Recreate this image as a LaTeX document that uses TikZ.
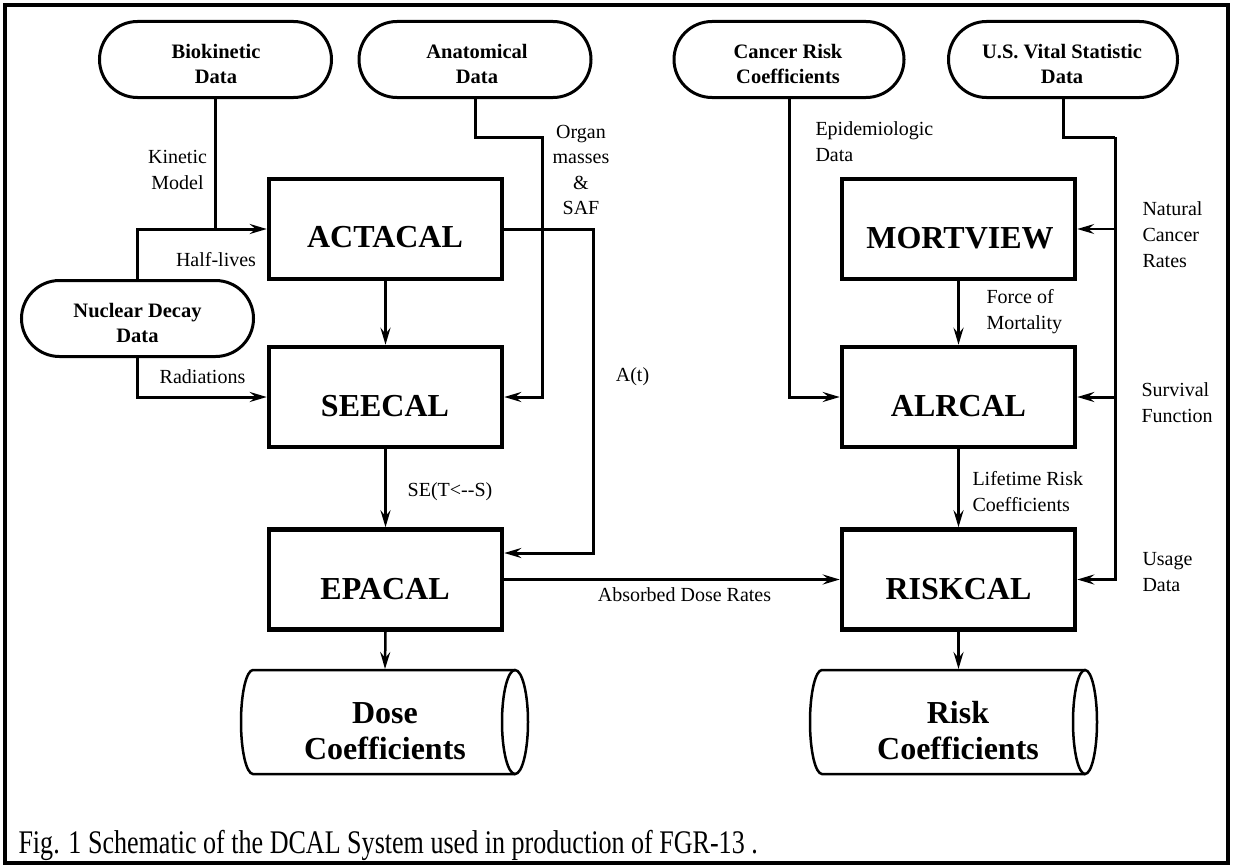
\documentclass[tikz,border=0pt]{standalone}
\usepackage{fontspec}
\usepackage{graphicx}
\setmainfont{Liberation Serif}
\usetikzlibrary{arrows.meta,shapes.misc}
\begin{document}
\begin{tikzpicture}[x=1pt,y=-1pt,
  line width=3pt,
  arr/.style={-{Stealth[length=17pt,width=10pt,inset=6pt]}},
  datanode/.style={rounded rectangle, draw, line width=3pt, minimum width=232pt, minimum height=76pt, inner sep=0pt},
  prog/.style={draw, line width=4.5pt, minimum width=233pt, minimum height=100pt, inner sep=0pt},
  ttl/.style={inner sep=0pt, align=center, font=\fontsize{20.5}{25}\selectfont\bfseries},
  progtxt/.style={inner sep=0pt, align=center, font=\fontsize{32}{36}\selectfont\bfseries},
  lbl/.style={inner sep=0pt, font=\fontsize{20}{26}\selectfont},
  cyl/.style={draw, line width=2.5pt},
]
\useasboundingbox (0,0) rectangle (1233,867);
\draw[line width=4.5pt] (5,5) rectangle (1228,863);

% data sources
\node[datanode] (bio) at (215.5,59.5) {};
\node[ttl] (bio-t) at (216,64) {Biokinetic\\Data};
\node[datanode] (anat) at (475,59.5) {};
\node[ttl] (anat-t) at (477,64) {Anatomical\\Data};
\node[datanode, minimum width=230pt] (canc) at (789,59.5) {};
\node[ttl] (canc-t) at (788,64) {Cancer Risk\\Coefficients};
\node[datanode, minimum width=229pt] (usv) at (1063,59.5) {};
\node[ttl] (usv-t) at (1062,64) {U.S. Vital Statistic\\Data};
\node[datanode] (nuc) at (137.5,318.5) {};
\node[ttl] (nuc-t) at (137.5,323) {Nuclear Decay\\Data};

% programs
\node[prog] (act) at (385.5,229) {};
\node[progtxt] (act-t) at (385,237.5) {ACTACAL};
\node[prog] (see) at (385.5,397) {};
\node[progtxt] (see-t) at (385,406) {SEECAL};
\node[prog] (epa) at (385.5,579.5) {};
\node[progtxt] (epa-t) at (385,589) {EPACAL};
\node[prog] (mort) at (958.5,229) {};
\node[progtxt] (mort-t) at (960,238.5) {MORTVIEW};
\node[prog] (alr) at (958.5,397) {};
\node[progtxt] (alr-t) at (958.5,406) {ALRCAL};
\node[prog] (risk) at (958.5,579.5) {};
\node[progtxt] (risk-t) at (958.5,589) {RISKCAL};

% output cylinders
\draw[cyl] (515,670) -- (253,670) arc[start angle=270, end angle=90, x radius=12, y radius=52] -- (515,774);
\draw[cyl] (515,722) ellipse [x radius=13, y radius=52];
\coordinate (dosetop) at (385,669);
\node[progtxt] (dose-t) at (385,731) {Dose\\Coefficients};

\draw[cyl] (1085,670) -- (822,670) arc[start angle=270, end angle=90, x radius=12, y radius=52] -- (1085,774);
\draw[cyl] (1085,722) ellipse [x radius=12, y radius=52];
\coordinate (risktop) at (958.5,669);
\node[progtxt] (riskc-t) at (958,731) {Risk\\Coefficients};

% labels
\node[lbl, align=center] (l-kin) at (177.5,169.5) {Kinetic\\Model};
\node[lbl] (l-half) at (216,260) {Half-lives};
\node[lbl, align=center, font=\fontsize{20}{25.5}\selectfont] (l-organ) at (581,170) {Organ\\masses\\\&\\SAF};
\node[lbl] (l-rad) at (202.5,377) {Radiations};
\node[lbl] (l-se) at (450,492) {SE(T<-\kern0pt-S)};
\node[lbl] (l-at) at (632.5,377) {A(t)};
\node[lbl] (l-abs) at (684.5,595) {Absorbed Dose Rates};
\node[lbl, align=left, anchor=west] (l-epi) at (814,142) {Epidemiologic\\Data};
\node[lbl, align=left, anchor=west] (l-nat) at (1141,234.5) {Natural\\Cancer\\Rates};
\node[lbl, align=left, anchor=west] (l-force) at (985,312) {Force of\\Mortality};
\node[lbl, align=left, anchor=west] (l-surv) at (1140,403) {Survival\\Function};
\node[lbl, align=left, anchor=west] (l-life) at (971,492) {Lifetime Risk\\Coefficients};
\node[lbl, align=left, anchor=west] (l-usage) at (1141,572) {Usage\\Data};

% caption
\node[anchor=base west, inner sep=0pt] (cap) at (17,853) {\scalebox{0.79}[1]{\fontsize{33}{40}\selectfont Fig. 1 Schematic of the DCAL System used in production of FGR-13 .}};

% connectors
\draw (bio.south) -- (bio.south |- act.west);
\draw[arr] (nuc.north) |- (act.west);
\draw[arr] (nuc.south) |- (see.west);
\coordinate (ja) at (542,137);
\draw[arr] (anat.south) |- (ja) |- (see.east);
\coordinate (jb) at (593,553);
\draw[arr] (act.east) -| (jb) -- (epa.east |- jb);
\draw[arr] (act.south) -- (see.north);
\draw[arr] (see.south) -- (epa.north);
\draw[arr] (epa.east) -- (risk.west);
\draw[arr, line width=2.5pt] (epa.south) -- (dosetop);
\draw[arr] (canc.south) |- (alr.west);
\coordinate (jc) at (1115,137);
\draw (usv.south) |- (jc);
\draw[arr] (jc) |- (risk.east);
\draw[arr] (jc |- alr.east) -- (alr.east);
\draw[arr, line width=1.2pt] (jc |- mort.east) -- (mort.east);
\draw[arr] (mort.south) -- (alr.north);
\draw[arr] (alr.south) -- (risk.north);
\draw[arr, line width=2.5pt] (risk.south) -- (risktop);
\end{tikzpicture}
\end{document}
